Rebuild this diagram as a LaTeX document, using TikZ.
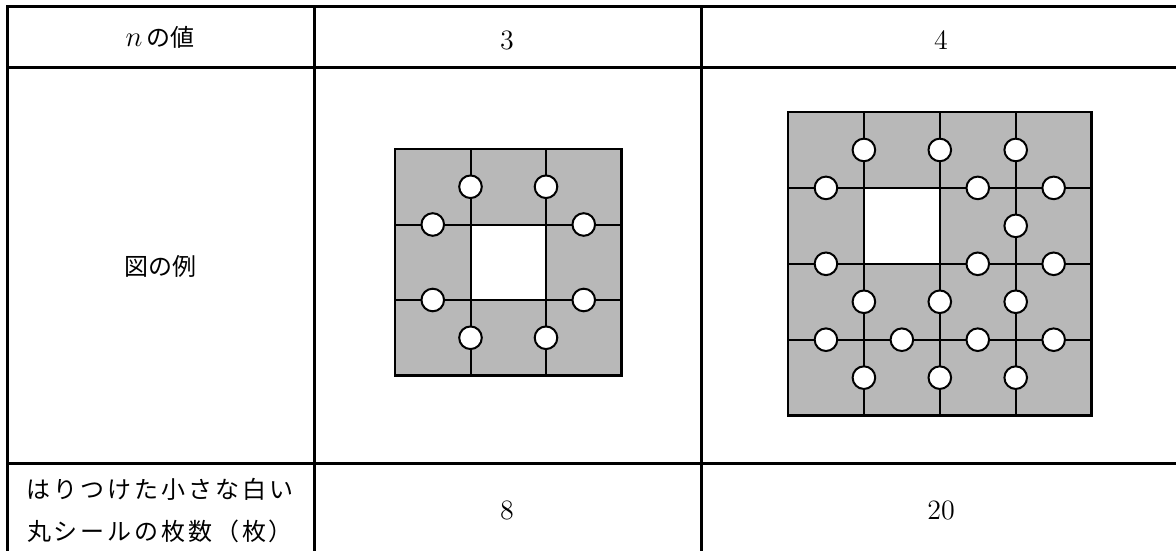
\documentclass[tikz,border=0pt]{standalone}
\usepackage{fontspec}
\newfontfamily\jpfont{Noto Sans CJK JP}
\newfontfamily\jpwide[LetterSpace=12]{Noto Sans CJK JP}
\usetikzlibrary{positioning}

\begin{document}
\begin{tikzpicture}[
    x=0.5pt,y=-0.5pt,
    rule/.style={line width=1.5pt},
    cellline/.style={line width=1pt},
    tile/.style={fill=black!28},
    seal/.style={circle,draw,line width=1pt,fill=white,minimum size=11.3pt,inner sep=0pt},
    jp/.style={font=\jpfont\fontsize{12}{14}\selectfont},
    num/.style={font=\fontsize{14}{16}\selectfont}
]
\useasboundingbox (0,0) rectangle (1176,551);

% table rules
\draw[rule] (1176,7) -- (7,7) -- (7,551);
\draw[rule] (7,68) -- (1176,68);
\draw[rule] (7,463) -- (1176,463);
\draw[rule] (314,7) -- (314,551);
\draw[rule] (701,7) -- (701,551);

% header row
\node[jp] (hdr) at (160,37) {{\fontsize{14}{16}\selectfont$n$}\,の値};
\node[num] (v3) at (507,40) {3};
\node[num] (v4) at (941,40) {4};

% figure row
\node[jp] (fig) at (160,266) {図の例};

% n = 3 : 3x3 tiles, hole in the middle
\begin{scope}[shift={(395,149)},scale=75.5]
  \fill[tile] (0,0) rectangle (3,3);
  \fill[white] (1,1) rectangle (2,2);
  \foreach \k in {1,2} {
    \draw[cellline] (\k,0) -- (\k,3);
    \draw[cellline] (0,\k) -- (3,\k);
  }
  \draw[line width=1.2pt] (0,0) rectangle (3,3);
  \foreach \p [count=\i] in {(1,0.5),(2,0.5),(0.5,1),(2.5,1),
                             (0.5,2),(2.5,2),(1,2.5),(2,2.5)}
    \node[seal] (a\i) at \p {};
\end{scope}

% n = 4 : 4x4 tiles, hole at second column, second row
\begin{scope}[shift={(788,112)},scale=75.9]
  \fill[tile] (0,0) rectangle (4,4);
  \fill[white] (1,1) rectangle (2,2);
  \foreach \k in {1,2,3} {
    \draw[cellline] (\k,0) -- (\k,4);
    \draw[cellline] (0,\k) -- (4,\k);
  }
  \draw[line width=1.2pt] (0,0) rectangle (4,4);
  \foreach \p [count=\i] in {(1,0.5),(2,0.5),(3,0.5),
                             (0.5,1),(2.5,1),(3.5,1),
                             (3,1.5),
                             (0.5,2),(2.5,2),(3.5,2),
                             (1,2.5),(2,2.5),(3,2.5),
                             (0.5,3),(1.5,3),(2.5,3),(3.5,3),
                             (1,3.5),(2,3.5),(3,3.5)}
    \node[seal] (b\i) at \p {};
\end{scope}

% count row
\node[font=\jpwide\fontsize{12}{21}\selectfont,align=center] (cnt) at (160,511)
  {はりつけた小さな白い\\丸シールの枚数（枚）};
\node[num] (c8) at (507,510) {8};
\node[num] (c20) at (941,510) {20};

\end{tikzpicture}
\end{document}
